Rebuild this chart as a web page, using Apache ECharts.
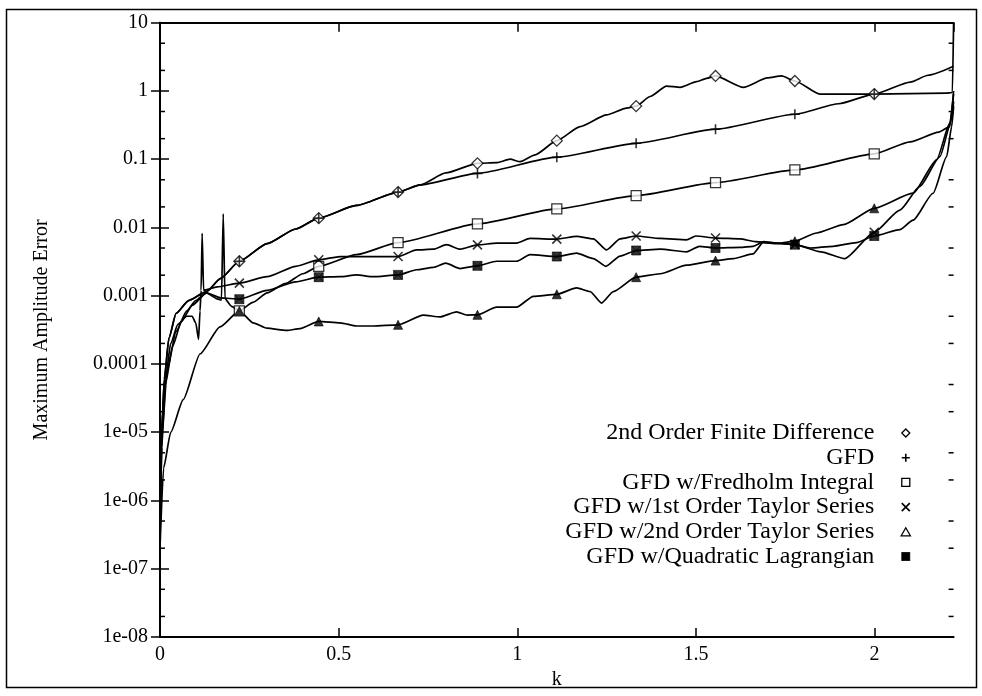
<!DOCTYPE html>
<html>
<head>
<meta charset="utf-8">
<title>Maximum Amplitude Error</title>
<script src="https://cdn.jsdelivr.net/npm/echarts@6/dist/echarts.min.js"></script>
<style>
  html, body { margin: 0; background: #fff; }
  #chart { width: 982px; height: 696px; }
</style>
</head>
<body>
<div id="chart"></div>
<script>
// k range and marker positions (every tenth of the range)
const kMax = 2.2214;
const markerK = [0.2221, 0.4443, 0.6664, 0.8886, 1.1107, 1.3328, 1.5550, 1.7771, 1.9993];

const yTickLabels = ['1e-08', '1e-07', '1e-06', '1e-05', '0.0001', '0.001', '0.01', '0.1', '1', '10'];
const minorTicks = [2e-8, 5e-8, 2e-7, 5e-7, 2e-6, 5e-6, 2e-5, 5e-5, 2e-4, 5e-4, 2e-3, 5e-3, 0.02, 0.05, 0.2, 0.5, 2, 5];

const seriesNames = [
  '2nd Order Finite Difference',
  'GFD',
  'GFD w/Fredholm Integral',
  'GFD w/1st Order Taylor Series',
  'GFD w/2nd Order Taylor Series',
  'GFD w/Quadratic Lagrangian'
];

// [k, error]
const fdPts = [
  [0, 5e-7], [0.004, 8e-6], [0.012, 6e-5], [0.025, 2.4e-4], [0.045, 5.5e-4], [0.08, 8.5e-4],
  [0.13, 1.15e-3], [0.17, 1.8e-3], [0.2221, 3.2e-3], [0.3, 5.8e-3], [0.38, 9.5e-3], [0.4443, 0.0137],
  [0.55, 0.021], [0.6664, 0.033], [0.728, 0.042], [0.80, 0.063], [0.8886, 0.087], [0.942, 0.089],
  [0.98, 0.10], [1.008, 0.092], [1.05, 0.116], [1.1107, 0.187], [1.176, 0.30], [1.25, 0.445],
  [1.306, 0.56], [1.3328, 0.60], [1.372, 0.83], [1.418, 1.18], [1.456, 1.13], [1.502, 1.37],
  [1.53, 1.53], [1.5550, 1.66], [1.633, 1.13], [1.70, 1.55], [1.74, 1.66], [1.7771, 1.40],
  [1.847, 0.9], [1.9993, 0.9], [2.2, 0.93], [2.218, 0.95], [2.2214, 10]
];
const gfdPts = [
  [0, 5e-7], [0.004, 8e-6], [0.012, 6e-5], [0.025, 2.4e-4], [0.045, 5.5e-4], [0.08, 8.5e-4],
  [0.13, 1.15e-3], [0.17, 1.8e-3], [0.2221, 3.2e-3], [0.3, 5.8e-3], [0.38, 9.5e-3], [0.4443, 0.0137],
  [0.55, 0.021], [0.6664, 0.033], [0.728, 0.042], [0.8886, 0.062], [1.1107, 0.107], [1.3328, 0.171],
  [1.5550, 0.275], [1.7771, 0.456], [1.9, 0.65], [1.9993, 0.9], [2.1, 1.35], [2.15, 1.7], [2.2214, 2.3]
];
const fredPts = [
  [0, 3e-7], [0.005, 6e-6], [0.015, 5e-5], [0.035, 1.8e-4], [0.06, 4.2e-4], [0.09, 7.2e-4],
  [0.13, 1.1e-3], [0.16, 9e-4], [0.172, 8.6e-4], [0.177, 0.0158], [0.182, 9e-4], [0.2, 7e-4],
  [0.2221, 6e-4], [0.26, 8e-4], [0.3, 1.1e-3], [0.35, 1.5e-3], [0.40, 2.1e-3], [0.4443, 2.7e-3],
  [0.55, 4e-3], [0.6664, 6e-3], [0.8886, 0.0113], [1.1107, 0.0187], [1.3328, 0.0293], [1.5550, 0.0454],
  [1.7771, 0.0697], [1.9993, 0.12], [2.1, 0.18], [2.18, 0.25], [2.211, 0.30], [2.2214, 1.0]
];
const taylor1Pts = [
  [0, 5e-7], [0.005, 1.2e-5], [0.015, 6e-5], [0.03, 2e-4], [0.05, 3.8e-4], [0.075, 5e-4],
  [0.09, 5e-4], [0.1, 4e-4], [0.108, 2.3e-4], [0.112, 6e-4], [0.115, 1.2e-3], [0.118, 8.2e-3],
  [0.122, 1.2e-3], [0.16, 1.35e-3], [0.2221, 1.53e-3], [0.3, 1.9e-3], [0.38, 2.7e-3], [0.4443, 3.36e-3],
  [0.504, 3.75e-3], [0.6664, 3.75e-3], [0.718, 4.7e-3], [0.765, 4.8e-3], [0.802, 5.6e-3], [0.84, 4.8e-3],
  [0.8886, 5.56e-3], [0.942, 5.9e-3], [0.998, 5.9e-3], [1.036, 6.9e-3], [1.1107, 6.75e-3], [1.166, 7.4e-3],
  [1.213, 6.8e-3], [1.25, 4.7e-3], [1.288, 6.8e-3], [1.3328, 7.5e-3], [1.40, 6.9e-3], [1.474, 6.6e-3],
  [1.50, 7.5e-3], [1.5550, 7.0e-3], [1.624, 6.8e-3], [1.666, 6.2e-3], [1.726, 5.9e-3], [1.7771, 5.6e-3],
  [1.85, 4.4e-3], [1.917, 3.5e-3], [1.9993, 8.5e-3], [2.071, 0.018], [2.127, 0.040], [2.183, 0.109],
  [2.216, 0.38], [2.2214, 0.7]
];
const taylor2Pts = [
  [0, 2e-7], [0.01, 3e-6], [0.03, 1e-5], [0.065, 3e-5], [0.112, 1.4e-4], [0.168, 3.5e-4],
  [0.2221, 6e-4], [0.261, 4e-4], [0.299, 3.35e-4], [0.355, 3.1e-4], [0.392, 3.3e-4], [0.4443, 4.2e-4],
  [0.504, 4e-4], [0.55, 3.6e-4], [0.597, 3.6e-4], [0.6664, 3.75e-4], [0.737, 5.2e-4], [0.784, 4.9e-4],
  [0.83, 5.8e-4], [0.86, 5.2e-4], [0.8886, 5.25e-4], [0.942, 6.8e-4], [0.998, 6.8e-4], [1.045, 9.8e-4],
  [1.1107, 1.05e-3], [1.166, 1.3e-3], [1.204, 1.15e-3], [1.236, 7.8e-4], [1.269, 1.15e-3], [1.3328, 1.87e-3],
  [1.40, 2.1e-3], [1.474, 2.8e-3], [1.5550, 3.27e-3], [1.605, 3.5e-3], [1.66, 4.1e-3], [1.688, 6e-3],
  [1.726, 5.8e-3], [1.7771, 6.3e-3], [1.838, 8.3e-3], [1.913, 0.011], [1.9993, 0.0191], [2.108, 0.0318],
  [2.174, 0.098], [2.211, 0.34], [2.2214, 0.9]
];
const lagrPts = [
  [0, 3e-7], [0.006, 1e-5], [0.02, 8e-5], [0.045, 3e-4], [0.075, 6e-4], [0.1, 8.5e-4],
  [0.13, 1.1e-3], [0.17, 9.3e-4], [0.2221, 8.9e-4], [0.30, 1.2e-3], [0.38, 1.6e-3], [0.4443, 1.87e-3],
  [0.504, 1.9e-3], [0.55, 2.02e-3], [0.597, 1.9e-3], [0.6664, 2.02e-3], [0.718, 2.4e-3], [0.765, 2.6e-3],
  [0.80, 3e-3], [0.84, 2.5e-3], [0.8886, 2.74e-3], [0.942, 3.2e-3], [0.998, 3.2e-3], [1.036, 4e-3],
  [1.1107, 3.75e-3], [1.166, 4.2e-3], [1.213, 3.5e-3], [1.248, 2.7e-3], [1.288, 3.8e-3], [1.3328, 4.6e-3],
  [1.40, 4.8e-3], [1.474, 4.4e-3], [1.51, 5.3e-3], [1.5550, 5.0e-3], [1.624, 5.1e-3], [1.66, 5.3e-3],
  [1.69, 6.2e-3], [1.726, 5.9e-3], [1.7771, 5.6e-3], [1.82, 5.0e-3], [1.884, 5.3e-3], [1.95, 6e-3],
  [1.9993, 7.5e-3], [2.071, 9.3e-3], [2.108, 0.0128], [2.164, 0.0317], [2.202, 0.109], [2.216, 0.30],
  [2.2214, 0.6]
];

const FONT = '"Liberation Serif", "DejaVu Serif", serif';
const DIAMOND = 'path://M4,0L8,4L4,8L0,4Z';
const PLUS = 'path://M4,0L4,8M0,4L8,4';
const SQUARE = 'path://M0,0L8,0L8,8L0,8Z';
const CROSS = 'path://M0,0L8,8M8,0L0,8';
const TRIANGLE = 'path://M4,0L8,7L0,7Z';
const STAR = 'path://M0,0L8,8M8,0L0,8M0,0L8,0L8,8L0,8Z';

const hollow = { color: '#fff', borderColor: '#000', borderWidth: 1.3 };
const stroked = { color: '#000', borderColor: '#000', borderWidth: 1.6 };
const filled = { color: '#000', borderColor: '#000', borderWidth: 0.8 };

const curves = [
  { pts: fdPts, symbol: 'diamond', size: 11, style: hollow },
  { pts: gfdPts, symbol: PLUS, size: 10, style: stroked },
  { pts: fredPts, symbol: 'rect', size: 10, style: hollow },
  { pts: taylor1Pts, symbol: CROSS, size: 9, style: stroked },
  { pts: taylor2Pts, symbol: 'triangle', size: 9, style: filled },
  { pts: lagrPts, symbol: STAR, size: 9, style: filled }
];
const legendIcons = [DIAMOND, PLUS, SQUARE, CROSS, TRIANGLE, STAR];
const legendStyles = [hollow, stroked, hollow, stroked, hollow, filled];

function isMarker(k) {
  return markerK.some(m => Math.abs(m - k) < 1e-3);
}

const series = [];
curves.forEach((c, i) => {
  series.push({
    name: seriesNames[i],
    type: 'line',
    data: c.pts,
    showSymbol: false,
    smooth: 0.2,
    smoothMonotone: 'x',
    lineStyle: { color: '#000', width: 1.7 },
    itemStyle: { color: '#000' },
    z: 2
  });
  series.push({
    name: seriesNames[i],
    type: 'scatter',
    data: c.pts.filter(p => isMarker(p[0])),
    symbol: c.symbol,
    symbolSize: c.size,
    itemStyle: c.style,
    z: 3
  });
});

// log-spaced minor ticks at 2 and 5 of every decade, on both vertical axes
series.push({
  type: 'custom',
  silent: true,
  data: minorTicks.map(v => [0, v]),
  renderItem: function (params, api) {
    const p = api.coord([0, api.value(1)]);
    const cs = params.coordSys;
    const st = { stroke: '#000', lineWidth: 1.5 };
    return {
      type: 'group',
      children: [
        { type: 'line', shape: { x1: cs.x, y1: p[1], x2: cs.x + 5, y2: p[1] }, style: st },
        { type: 'line', shape: { x1: cs.x + cs.width - 5, y1: p[1], x2: cs.x + cs.width, y2: p[1] }, style: st }
      ]
    };
  }
});

const axisLine = { show: true, lineStyle: { color: '#000', width: 2 } };
const majorTick = { show: true, inside: true, length: 9, lineStyle: { color: '#000', width: 1.5 } };

const option = {
  animation: false,
  backgroundColor: '#fff',
  grid: { left: 160, right: 28.4, top: 22.7, bottom: 59 },
  legend: {
    data: seriesNames.map((n, i) => ({ name: n, icon: legendIcons[i], itemStyle: legendStyles[i] })),
    orient: 'vertical',
    align: 'right',
    right: 71,
    top: 421,
    padding: 0,
    itemWidth: 53,
    itemHeight: 8,
    itemGap: 0.7,
    symbolKeepAspect: true,
    selectedMode: false,
    textStyle: { fontFamily: FONT, fontSize: 24, color: '#000', lineHeight: 24 }
  },
  xAxis: [
    {
      type: 'value', min: 0, max: kMax, interval: 0.5, position: 'bottom',
      name: 'k', nameLocation: 'middle', nameGap: 26,
      nameTextStyle: { fontFamily: FONT, fontSize: 20, color: '#000' },
      axisLine: axisLine, axisTick: majorTick, splitLine: { show: false },
      axisLabel: { fontFamily: FONT, fontSize: 20, color: '#000', margin: 8, showMaxLabel: false }
    },
    {
      type: 'value', min: 0, max: kMax, interval: 0.5, position: 'top',
      axisLine: axisLine, axisTick: majorTick, splitLine: { show: false },
      axisLabel: { show: false }
    }
  ],
  yAxis: [
    {
      type: 'log', logBase: 10, min: 1e-8, max: 10, position: 'left',
      name: 'Maximum Amplitude Error', nameLocation: 'middle', nameGap: 108,
      nameTextStyle: { fontFamily: FONT, fontSize: 20, color: '#000' },
      axisLine: axisLine, axisTick: majorTick, splitLine: { show: false }, minorTick: { show: false },
      axisLabel: {
        fontFamily: FONT, fontSize: 20, color: '#000', margin: 12,
        formatter: v => yTickLabels[Math.round(Math.log10(v)) + 8]
      }
    },
    {
      type: 'log', logBase: 10, min: 1e-8, max: 10, position: 'right',
      axisLine: axisLine, axisTick: majorTick, splitLine: { show: false },
      axisLabel: { show: false }
    }
  ],
  graphic: [
    {
      type: 'rect', silent: true, z: 100,
      shape: { x: 6.5, y: 9.5, width: 970, height: 678 },
      style: { fill: 'none', stroke: '#000', lineWidth: 1.5 }
    }
  ],
  series: series
};

const myChart = echarts.init(document.getElementById('chart'));
myChart.setOption(option);
</script>
</body>
</html>
